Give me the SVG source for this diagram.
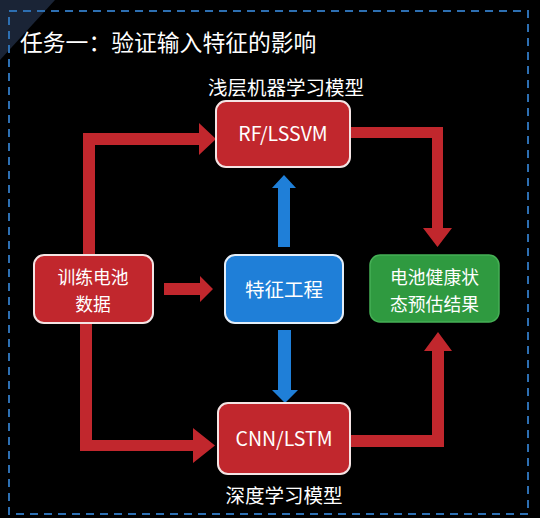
<svg xmlns="http://www.w3.org/2000/svg" width="540" height="518" viewBox="0 0 540 518">
<style>
.t{font-family:"Noto Sans CJK SC","Noto Sans",sans-serif;fill:#ffffff;}
.c{text-anchor:middle;font-size:19.5px;}
.s{font-size:17.8px;}
.red{fill:#c1272d;}
.blue{fill:#1f7fd8;}
.box-r{fill:#c1272d;stroke:#f4e4e4;stroke-width:2;}
.box-b{fill:#1f7fd8;stroke:#e4eef8;stroke-width:2;}
.box-g{fill:#2f9a40;stroke:#45b055;stroke-width:1.5;}
</style>
<rect x="0" y="0" width="540" height="518" fill="#000000"/>
<polygon points="0,0 55,0 0,60" fill="#1a2436"/>
<rect x="9" y="11" width="519" height="503" fill="none" stroke="#2d6fb2" stroke-width="2" stroke-dasharray="8 6"/>
<text class="t" x="20" y="51" font-size="22.8">任务一：验证输入特征的影响</text>
<text class="t c" x="286" y="95">浅层机器学习模型</text>
<text class="t c" x="284" y="503">深度学习模型</text>

<g id="connectors">
  <polygon class="red" points="83,255 83,133 199,133 199,123 216,139 199,155 199,145 95,145 95,255"/>
  <polygon class="red" points="80,323 80,451 193,451 193,463 215,445.5 193,428 193,440 92,440 92,323"/>
  <polygon class="red" points="164,283 200,283 200,276 213,289 200,302 200,295 164,295"/>
  <polygon class="red" points="350,127 443,127 443,228 452,228 437.5,247 423,228 432,228 432,138 350,138"/>
  <polygon class="red" points="350,447 444,447 444,351 452,351 438,332 424,351 432,351 432,435 350,435"/>
  <polygon class="blue" points="278,247 278,188 272,188 284,175 296,188 290,188 290,247"/>
  <polygon class="blue" points="278,330 278,390 272,390 285,403 298,390 291,390 291,330"/>
</g>

<g id="rf">
  <rect class="box-r" x="216" y="101" width="134" height="66" rx="10"/>
  <text class="t c" x="283" y="141">RF/LSSVM</text>
</g>
<g id="train">
  <rect class="box-r" x="34" y="255" width="119" height="68" rx="10"/>
  <text class="t c s" x="93" y="284">训练电池</text>
  <text class="t c s" x="93" y="310.5">数据</text>
</g>
<g id="feature">
  <rect class="box-b" x="225" y="255" width="118" height="68" rx="10"/>
  <text class="t c" x="284" y="297">特征工程</text>
</g>
<g id="result">
  <rect class="box-g" x="370" y="255" width="129" height="67" rx="10"/>
  <text class="t c s" x="434.5" y="284">电池健康状</text>
  <text class="t c s" x="434.5" y="310.5">态预估结果</text>
</g>
<g id="cnn">
  <rect class="box-r" x="218" y="403" width="132" height="71" rx="10"/>
  <text class="t c" x="284" y="446">CNN/LSTM</text>
</g>
</svg>
